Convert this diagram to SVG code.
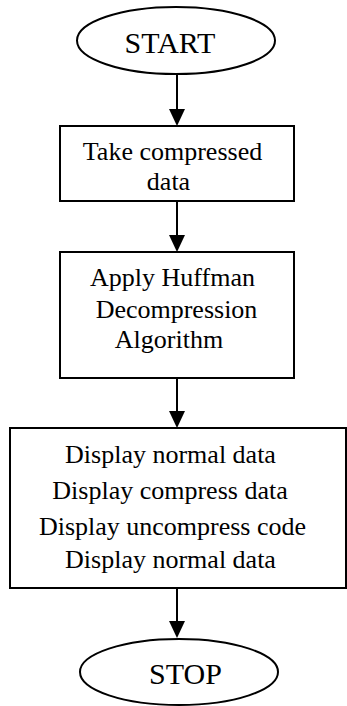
<svg xmlns="http://www.w3.org/2000/svg" width="347" height="706" viewBox="0 0 347 706">
<style>
.shape{fill:#fff;stroke:#000;stroke-width:2}
.t{font-family:"Liberation Serif","Times New Roman",serif;fill:#000;text-anchor:middle}
.big{font-size:30px}
.mid{font-size:26px}
.conn{stroke:#000;stroke-width:2;fill:none}
.head{fill:#000}
</style>
<rect width="347" height="706" fill="#fff"/>
<g id="connectors">
<line class="conn" x1="177" y1="74" x2="177" y2="110"/>
<polygon class="head" points="169,109 185,109 177,126"/>
<line class="conn" x1="177" y1="201" x2="177" y2="236"/>
<polygon class="head" points="169,235 185,235 177,252"/>
<line class="conn" x1="177" y1="378" x2="177" y2="412"/>
<polygon class="head" points="169,411 185,411 177,428"/>
<line class="conn" x1="177" y1="588" x2="177" y2="622"/>
<polygon class="head" points="169,621 185,621 177,638"/>
</g>
<g id="start">
<ellipse class="shape" cx="176" cy="40.5" rx="99" ry="33.5"/>
<text class="t big" x="170" y="53">START</text>
</g>
<g id="take">
<rect class="shape" x="60" y="126" width="234" height="75"/>
<text class="t mid" x="172.5" y="160">Take compressed</text>
<text class="t mid" x="168.5" y="190">data</text>
</g>
<g id="apply">
<rect class="shape" x="60" y="252" width="234" height="126"/>
<text class="t mid" x="172.5" y="286">Apply Huffman</text>
<text class="t mid" x="176.5" y="318">Decompression</text>
<text class="t mid" x="169" y="348">Algorithm</text>
</g>
<g id="display">
<rect class="shape" x="10" y="428" width="336" height="160"/>
<text class="t mid" x="170.5" y="463">Display normal data</text>
<text class="t mid" x="170" y="499">Display compress data</text>
<text class="t mid" x="172.5" y="535">Display uncompress code</text>
<text class="t mid" x="170.5" y="568">Display normal data</text>
</g>
<g id="stop">
<ellipse class="shape" cx="179" cy="672" rx="99" ry="33"/>
<text class="t big" x="185.5" y="684">STOP</text>
</g>
</svg>
